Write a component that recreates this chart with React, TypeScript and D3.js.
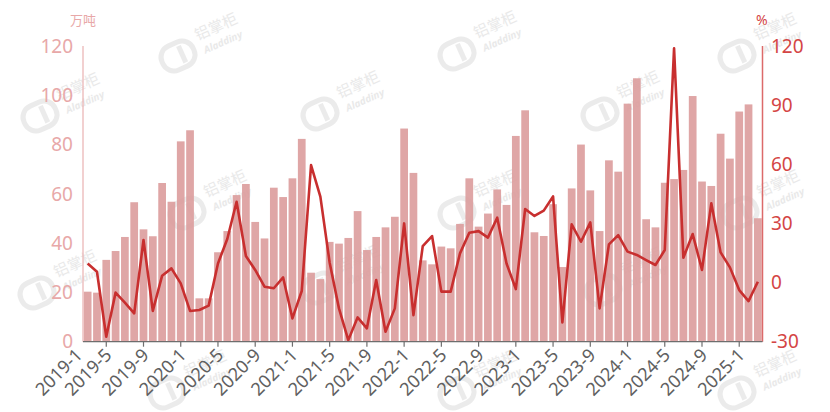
import React from "react";
import * as d3 from "d3";

// Months shown as bars (aligned with the axis ticks)
const months: string[] = [
  "2019-3","2019-4","2019-5","2019-6","2019-7","2019-8","2019-9","2019-10","2019-11","2019-12",
  "2020-1","2020-2","2020-3","2020-4","2020-5","2020-6","2020-7","2020-8","2020-9","2020-10","2020-11","2020-12",
  "2021-1","2021-2","2021-3","2021-4","2021-5","2021-6","2021-7","2021-8","2021-9","2021-10","2021-11","2021-12",
  "2022-1","2022-2","2022-3","2022-4","2022-5","2022-6","2022-7","2022-8","2022-9","2022-10","2022-11","2022-12",
  "2023-1","2023-2","2023-3","2023-4","2023-5","2023-6","2023-7","2023-8","2023-9","2023-10","2023-11","2023-12",
  "2024-1","2024-2","2024-3","2024-4","2024-5","2024-6","2024-7","2024-8","2024-9","2024-10","2024-11","2024-12",
  "2025-1","2025-2","2025-3",
];

// Volume (万吨) – bars, left axis
const volume: number[] = [
  20.3, 19.9, 33.2, 36.8, 42.5, 56.6, 45.6, 42.8, 64.4, 56.8,
  81.3, 85.8, 17.6, 17.6, 36.3, 44.9, 59.5, 64.0, 48.6, 41.9, 62.5, 58.7,
  66.3, 82.3, 28.0, 25.4, 40.5, 39.8, 42.1, 53.0, 37.2, 42.5, 46.4, 50.7,
  86.5, 68.5, 33.0, 31.4, 38.6, 37.9, 47.8, 66.3, 46.7, 52.0, 61.8, 55.5,
  83.5, 93.9, 44.4, 42.9, 55.8, 30.3, 62.2, 80.0, 61.4, 44.9, 73.6, 69.0,
  96.6, 106.9, 49.7, 46.4, 64.5, 66.0, 69.7, 99.7, 65.0, 63.2, 84.4, 74.3,
  93.4, 96.3, 50.1,
];

// Year-on-year change (%) – line, right axis
const yoy: number[] = [
  9.7, 5.5, -27.5, -5.1, -10.2, -15.6, 21.6, -14.4, 3.5, 7.2,
  -0.4, -14.4, -13.9, -11.7, 9.7, 22.1, 41.0, 13.5, 6.4, -2.1, -2.9, 2.6,
  -18.2, -4.3, 59.6, 43.6, 10.1, -13.1, -29.2, -17.7, -23.2, 1.3, -24.9, -13.1,
  30.0, -16.5, 18.5, 23.6, -4.6, -4.6, 14.8, 25.3, 26.1, 22.8, 32.9, 9.7,
  -3.3, 37.3, 33.8, 36.5, 43.7, -20.2, 29.5, 20.7, 30.5, -13.1, 19.4, 24.1,
  15.7, 14.0, 11.4, 8.9, 16.5, 118.8, 12.6, 24.6, 6.4, 40.2, 15.3, 7.7,
  -3.8, -9.4, 0.4,
];

const xTickLabels: string[] = [
  "2019-1","2019-5","2019-9","2020-1","2020-5","2020-9","2021-1","2021-5","2021-9",
  "2022-1","2022-5","2022-9","2023-1","2023-5","2023-9","2024-1","2024-5","2024-9","2025-1",
];
const leftTicks: number[] = [0, 20, 40, 60, 80, 100, 120];
const rightTicks: number[] = [-30, 0, 30, 60, 90, 120];

const W = 830;
const H = 412;
const M = { left: 83, right: 67.5, top: 46, bottom: 70.3 };

const FONT = "'Noto Sans', 'Noto Sans CJK SC', sans-serif";

const watermarkPos: [number, number][] = [
  [178, 56], [457, 54], [737, 56],
  [40, 116], [320, 114], [600, 114],
  [187, 213], [457, 213], [740, 213],
  [37, 293], [320, 288], [603, 290],
  [167, 393], [457, 393], [737, 393],
];

function Watermark({ x, y }: { x: number; y: number }) {
  return (
    <g transform={`translate(${x},${y}) rotate(-24)`} opacity={0.5}>
      <rect x={-17} y={-13} width={34} height={26} rx={12} fill="none" stroke="#d8d8d8" strokeWidth={5} />
      <rect x={2} y={-9} width={5} height={18} fill="#d8d8d8" />
      <text x={24} y={-6} fontSize={15} fill="#d4d4d4" fontFamily="'Noto Sans CJK SC', sans-serif">铝掌柜</text>
      <text x={26} y={9} fontSize={10} fontStyle="italic" fontWeight="bold" fill="#d4d4d4" fontFamily={FONT}>Aladdiny</text>
    </g>
  );
}

export default function App() {
  const x = d3
    .scaleBand<string>()
    .domain(months)
    .range([M.left, W - M.right])
    .paddingInner(0.17)
    .paddingOuter(0.085);
  const yL = d3.scaleLinear().domain([0, 120]).range([H - M.bottom, M.top]);
  const yR = d3.scaleLinear().domain([-30, 120]).range([H - M.bottom, M.top]);

  const cx = (m: string) => (x(m) as number) + x.bandwidth() / 2;

  const line = d3
    .line<number>()
    .x((_, i) => cx(months[i]))
    .y((d) => yR(d));

  const baseY = H - M.bottom;

  const tickX = (lab: string) => {
    if (months.includes(lab)) return cx(lab);
    return cx("2019-5") - 4 * x.step() + 8;
  };

  return (
    <svg
      width={W}
      height={H}
      style={{ position: "absolute", left: 0, top: 0, background: "#fff" }}
      fontFamily={FONT}
    >
      {/* watermarks */}
      {watermarkPos.map(([wx, wy], i) => (
        <Watermark key={i} x={wx} y={wy} />
      ))}

      {/* bars */}
      {volume.map((v, i) => (
        <rect
          key={months[i]}
          x={x(months[i])}
          y={yL(v)}
          width={x.bandwidth()}
          height={baseY - yL(v)}
          fill="#dc9c9c"
          fillOpacity={0.9}
        />
      ))}

      {/* line */}
      <path d={line(yoy) || ""} fill="none" stroke="#c82f2f" strokeWidth={2.6} strokeLinejoin="round" />

      {/* left axis */}
      <line x1={M.left} x2={M.left} y1={M.top} y2={baseY} stroke="#e9b1b1" strokeWidth={1.2} />
      {leftTicks.map((t) => (
        <text key={t} x={73} y={yL(t)} dy="0.35em" textAnchor="end" fontSize={19} fill="#e8a8a8">
          {t}
        </text>
      ))}
      <text x={70} y={25} fontSize={13} fill="#e8a8a8" fontFamily="'Noto Sans CJK SC', sans-serif">万吨</text>

      {/* right axis */}
      <line x1={W - M.right} x2={W - M.right} y1={M.top} y2={baseY} stroke="#dc6a6a" strokeWidth={1.5} />
      {rightTicks.map((t) => (
        <text key={t} x={771} y={yR(t)} dy="0.35em" textAnchor="start" fontSize={19} fill="#d44545">
          {t}
        </text>
      ))}
      <text x={756} y={25} fontSize={14} fill="#d44545">%</text>

      {/* x axis */}
      <line x1={M.left} x2={W - M.right} y1={baseY} y2={baseY} stroke="#6e6e6e" strokeWidth={1.2} />
      {xTickLabels.map((lab) => {
        const tx = tickX(lab);
        return (
          <g key={lab}>
            {months.includes(lab) && (
              <line x1={tx} x2={tx} y1={baseY} y2={baseY + 5} stroke="#6e6e6e" strokeWidth={1.2} />
            )}
            <text
              transform={`translate(${tx + 2},${baseY + 10}) rotate(-45)`}
              textAnchor="end"
              dy="0.35em"
              fontSize={18}
              fill="#606060"
            >
              {lab}
            </text>
          </g>
        );
      })}
    </svg>
  );
}
